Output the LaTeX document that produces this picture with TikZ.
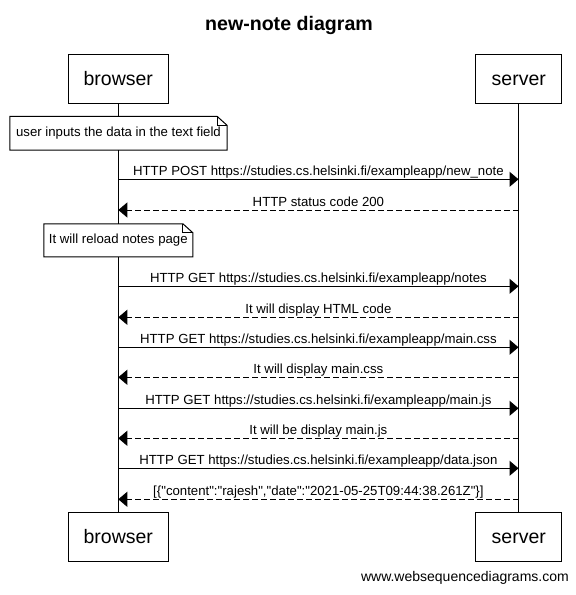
\documentclass[tikz,border=0pt]{standalone}
\usepackage{fontspec}
\setmainfont{Liberation Sans}[Ligatures=TeXOff]
\usetikzlibrary{arrows.meta}
\begin{document}
\begin{tikzpicture}[x=1pt,y=-1pt,
  actor/.style={draw, line width=1pt, minimum height=49pt, inner sep=0pt, text height=14pt, text depth=0pt, font=\fontsize{19.5}{22}\selectfont},
  notebox/.style={fill=white, inner sep=0pt, text height=9.5pt, text depth=2.7pt, font=\fontsize{13.2}{15}\selectfont},
  notefold/.style={line width=1pt},
  msg/.style={line width=1pt, -{Triangle[length=9pt,width=15pt]}},
  reply/.style={msg, dash pattern=on 6pt off 3pt},
  lbl/.style={anchor=base, yshift=3.6pt, font=\fontsize{13.2}{15}\selectfont, inner sep=0pt},
  life/.style={line width=1pt}]
\useasboundingbox (0,0) rectangle (576,595);
% title
\node[font=\fontsize{19.6}{22}\selectfont\bfseries, anchor=base] (title) at (289,30.7) {new-note diagram};
% actors
\node[actor, minimum width=100pt] (bt) at (118.3,78.6) {browser};
\node[actor, minimum width=85.7pt] (st) at (518.8,78.6) {server};
\node[actor, minimum width=100pt] (bb) at (118.3,536.8) {browser};
\node[actor, minimum width=85.7pt] (sb) at (518.8,536.8) {server};
% lifelines
\draw[life] (bt.south) -- (bb.north);
\draw[life] (st.south) -- (sb.north);
% notes
\node[notebox, minimum width=217pt, minimum height=33.3pt] (n1) at (118.5,133.3) {user inputs the data in the text field};
\draw[notefold] (n1.north west) -- ([xshift=-10pt]n1.north east) -- ([yshift=-9pt]n1.north east) -- (n1.south east) -- (n1.south west) -- cycle;
\draw[notefold] ([xshift=-10pt]n1.north east) -- ([xshift=-10pt,yshift=-9pt]n1.north east) -- ([yshift=-9pt]n1.north east);
\node[notebox, minimum width=148.7pt, minimum height=32.7pt] (n2) at (118.3,240.3) {It will reload notes page};
\draw[notefold] (n2.north west) -- ([xshift=-10pt]n2.north east) -- ([yshift=-9pt]n2.north east) -- (n2.south east) -- (n2.south west) -- cycle;
\draw[notefold] ([xshift=-10pt]n2.north east) -- ([xshift=-10pt,yshift=-9pt]n2.north east) -- ([yshift=-9pt]n2.north east);
% message end points
\coordinate (b1) at (118.3,179.3);  \coordinate (s1) at (518.5,179.3);
\coordinate (b2) at (118.3,210.0);  \coordinate (s2) at (518.5,210.0);
\coordinate (b3) at (118.3,286.3);  \coordinate (s3) at (518.5,286.3);
\coordinate (b4) at (118.3,317.3);  \coordinate (s4) at (518.5,317.3);
\coordinate (b5) at (118.3,347.3);  \coordinate (s5) at (518.5,347.3);
\coordinate (b6) at (118.3,377.3);  \coordinate (s6) at (518.5,377.3);
\coordinate (b7) at (118.3,408.3);  \coordinate (s7) at (518.5,408.3);
\coordinate (b8) at (118.3,438.3);  \coordinate (s8) at (518.5,438.3);
\coordinate (b9) at (118.3,468.3);  \coordinate (s9) at (518.5,468.3);
\coordinate (b10) at (118.3,499.3); \coordinate (s10) at (518.5,499.3);
% messages
\draw[msg] (b1) -- node[lbl] {HTTP POST https://studies.cs.helsinki.fi/exampleapp/new\_note} (s1);
\draw[reply] (s2) -- node[lbl] {HTTP status code 200} (b2);
\draw[msg] (b3) -- node[lbl] {HTTP GET https://studies.cs.helsinki.fi/exampleapp/notes} (s3);
\draw[reply] (s4) -- node[lbl] {It will display HTML code} (b4);
\draw[msg] (b5) -- node[lbl] {HTTP GET https://studies.cs.helsinki.fi/exampleapp/main.css} (s5);
\draw[reply] (s6) -- node[lbl] {It will display main.css} (b6);
\draw[msg] (b7) -- node[lbl] {HTTP GET https://studies.cs.helsinki.fi/exampleapp/main.js} (s7);
\draw[reply] (s8) -- node[lbl] {It will be display main.js} (b8);
\draw[msg] (b9) -- node[lbl] {HTTP GET https://studies.cs.helsinki.fi/exampleapp/data.json} (s9);
\draw[reply] (s10) -- node[lbl] {[\{"content":"rajesh","date":"2021-05-25T09:44:38.261Z"\}]} (b10);
% watermark
\node[anchor=base east, font=\fontsize{14}{16}\selectfont, inner sep=0pt] (wm) at (569,581) {www.websequencediagrams.com};
\end{tikzpicture}
\end{document}
